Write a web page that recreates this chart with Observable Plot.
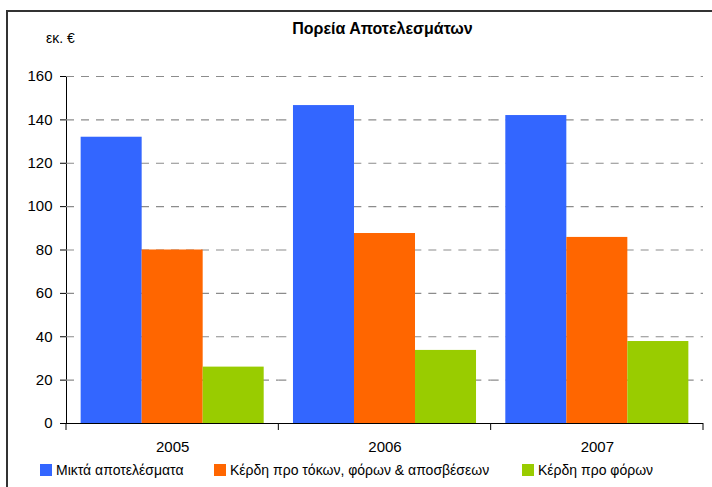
<!DOCTYPE html>
<html>
<head>
<meta charset="utf-8">
<script src="https://cdn.jsdelivr.net/npm/d3@7"></script>
<script src="https://cdn.jsdelivr.net/npm/@observablehq/plot@0.6"></script>
<style>
  html, body { margin: 0; padding: 0; background: #fff; }
  #wrap { position: relative; width: 712px; height: 487px; overflow: hidden; font-family: "Liberation Sans", Arial, sans-serif; }
  #wrap svg { position: absolute; left: 0; top: 0; }
  .border { position: absolute; left: 6px; top: 10px; right: -10px; bottom: -10px; border-top: 2px solid #333; border-left: 2px solid #333; pointer-events: none; }
  .title { position: absolute; left: 0; width: 765px; top: 20px; text-align: center; font-weight: bold; font-size: 16px; }
  .unit { position: absolute; left: 46px; top: 30px; font-size: 14px; }
  .legend { position: absolute; top: 462px; font-size: 14px; display: flex; align-items: center; white-space: nowrap; }
  .legend span.sw { display: inline-block; width: 12px; height: 12px; margin-right: 4px; }
</style>
</head>
<body>
<div id="wrap"></div>
<script>
const years = ["2005", "2006", "2007"];
const seriesNames = ["Μικτά αποτελέσματα", "Κέρδη προ τόκων, φόρων & αποσβέσεων", "Κέρδη προ φόρων"];
const grossResults = [132, 146.6, 142];
const ebitda = [80, 87.6, 85.8];
const ebt = [26, 33.7, 37.8];
const seriesColors = ["#3366FF", "#FF6600", "#99CC00"];
const yTicks = [0, 20, 40, 60, 80, 100, 120, 140, 160];
const titleText = "Πορεία Αποτελεσμάτων";
const unitText = "εκ. €";

const seriesValues = [grossResults, ebitda, ebt];
const data = years.flatMap((year, i) =>
  seriesNames.map((s, j) => ({ year, series: s, value: seriesValues[j][i] }))
);

const plot = Plot.plot({
  width: 712,
  height: 487,
  marginLeft: 66,
  marginRight: 9,
  marginTop: 76,
  marginBottom: 64,
  style: { fontFamily: "'Liberation Sans', Arial, sans-serif", fontSize: "15px", color: "#000", background: "transparent" },
  fx: { domain: years, padding: 0, round: false, label: null, axis: "bottom", tickSize: 0, tickPadding: 18 },
  x: { domain: seriesNames, axis: null, paddingInner: 0, paddingOuter: 0.24, round: false },
  y: { domain: [0, 160], ticks: yTicks, tickSize: 6, tickPadding: 8, label: null, line: true },
  color: { domain: seriesNames, range: seriesColors },
  marks: [
    Plot.ruleY(yTicks.filter(d => d > 0), { stroke: "#8c8c8c", strokeWidth: 1.2, strokeDasharray: "8,7" }),
    Plot.barY(data, { fx: "year", x: "series", y: "value", fill: "series" }),
    Plot.ruleY([0], { stroke: "#000" })
  ]
});

// boundary ticks on the category axis, from the library's fx and y scales
const fx = plot.scale("fx");
const ys = plot.scale("y");
const y0 = ys.apply(0);
const edges = years.map(y => fx.apply(y)).concat([fx.apply(years[years.length - 1]) + fx.bandwidth]);
const sel = d3.select(plot);
sel.append("g").selectAll("line").data(edges).join("line")
  .attr("x1", d => d).attr("x2", d => d)
  .attr("y1", y0).attr("y2", y0 + 7)
  .attr("stroke", "#000");

const wrap = document.getElementById("wrap");
wrap.appendChild(plot);

const border = document.createElement("div");
border.className = "border";
wrap.appendChild(border);

const title = document.createElement("div");
title.className = "title";
title.textContent = titleText;
wrap.appendChild(title);

const unit = document.createElement("div");
unit.className = "unit";
unit.textContent = unitText;
wrap.appendChild(unit);

const legendLefts = [40, 214, 522];
seriesNames.forEach((s, i) => {
  const item = document.createElement("div");
  item.className = "legend";
  item.style.left = legendLefts[i] + "px";
  const sw = document.createElement("span");
  sw.className = "sw";
  sw.style.background = seriesColors[i];
  item.appendChild(sw);
  const t = document.createElement("span");
  t.textContent = s;
  item.appendChild(t);
  wrap.appendChild(item);
});
</script>
</body>
</html>
